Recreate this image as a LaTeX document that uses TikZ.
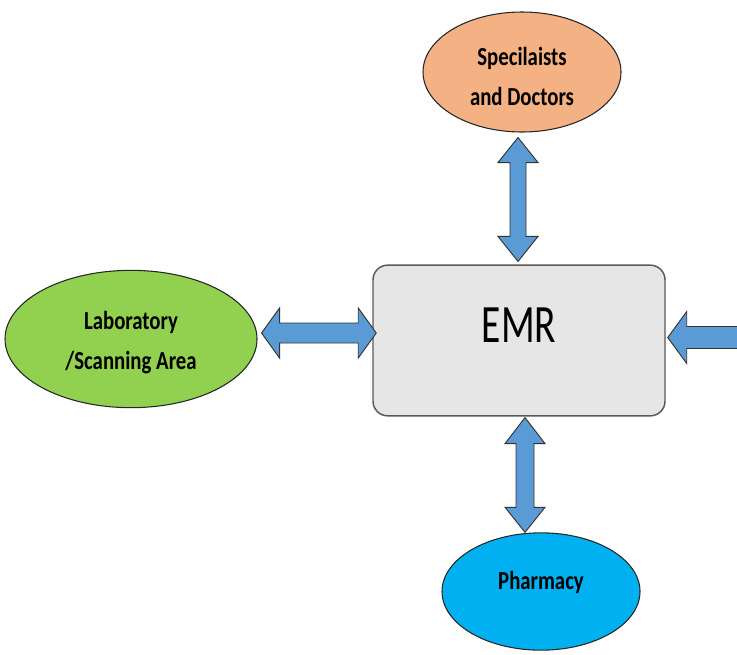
\documentclass[tikz,border=0pt]{standalone}
\usepackage{fontspec}
\setmainfont{Carlito}
\newfontfamily\narrowfont{Carlito}[FakeStretch=0.8]
\newfontfamily\emrfont{Carlito}[FakeStretch=0.73]
\usetikzlibrary{shapes.geometric,positioning,calc}
\definecolor{peach}{HTML}{F4B183}
\definecolor{limegreen}{HTML}{92D050}
\definecolor{skyblue}{HTML}{00B0F0}
\definecolor{boxgray}{HTML}{E6E6E6}
\definecolor{arrowblue}{HTML}{5B9BD5}

\begin{document}
\begin{tikzpicture}[
    x=0.75pt, y=-0.75pt,
    place/.style={
        ellipse,
        draw=black!85,
        line width=0.8pt,
        inner sep=0pt,
        align=center,
        font=\narrowfont\bfseries\fontsize{19.5pt}{30pt}\selectfont
    },
    recordbox/.style={
        draw=black!65,
        line width=1.1pt,
        fill=boxgray,
        rounded corners=11pt,
        minimum width=219pt,
        minimum height=113pt,
        inner sep=0pt,
        font=\emrfont\fontsize{40.5pt}{44pt}\selectfont
    },
    bigarrow/.style={fill=arrowblue, draw=black!80, line width=0.7pt, line join=miter}
]
    % Fix the page size
    \useasboundingbox (0,0) rectangle (737,654);

    % Central record box
    \node[recordbox, text depth=22.5pt] (emr) at (519,340.5) {EMR};

    % Surrounding places
    \node[place, fill=peach, minimum width=148.5pt, minimum height=90pt, text height=51pt] (spec) at (522,72) {Specilaists\\and Doctors};
    \node[place, fill=limegreen, minimum width=189pt, minimum height=103pt, text height=49pt] (lab) at (131,339) {Laboratory\\/Scanning Area};
    \node[place, fill=skyblue, minimum width=148.5pt, minimum height=88pt, text depth=16pt] (pharm) at (541,591.5) {Pharmacy};

    % Arrow end points
    \coordinate (ta) at ($(emr.north |- spec.south)+(-1,5)$);
    \coordinate (tb) at ($(emr.north)+(-1,-3)$);
    \coordinate (la) at ($(lab.east)+(4,-6)$);
    \coordinate (lb) at ($(emr.west |- la)+(4,0)$);
    \coordinate (ra) at ($(emr.east)+(2,-3)$);
    \coordinate (rend) at (745,337.5);
    \coordinate (ba) at ($(emr.south)+(6,1)$);
    \coordinate (bb) at (ba |- pharm.north);

    % Block arrows
    \draw[bigarrow] (ta) -- ++(20,25) -- ++(-12,0) -- ($(tb)+(8,-25)$) -- ++(12,0) -- (tb)
        -- ++(-20,-25) -- ++(12,0) -- ($(ta)+(-8,25)$) -- ++(-12,0) -- cycle;
    \draw[bigarrow] (la) -- ++(18,-25) -- ++(0,15) -- ($(lb)+(-18,-10)$) -- ++(0,-15) -- (lb)
        -- ++(-18,25) -- ++(0,-15) -- ($(la)+(18,10)$) -- ++(0,15) -- cycle;
    \draw[bigarrow] (ra) -- ++(19,-26) -- ++(0,15) -- (rend |- {$(ra)+(0,-11)$}) -- (rend |- {$(ra)+(0,11)$})
        -- ($(ra)+(19,11)$) -- ++(0,15) -- cycle;
    \draw[bigarrow] (ba) -- ++(20,26) -- ++(-11,0) -- ($(bb)+(9,-25)$) -- ++(11,0) -- (bb)
        -- ++(-20,-25) -- ++(11,0) -- ($(ba)+(-9,26)$) -- ++(-11,0) -- cycle;
\end{tikzpicture}
\end{document}
